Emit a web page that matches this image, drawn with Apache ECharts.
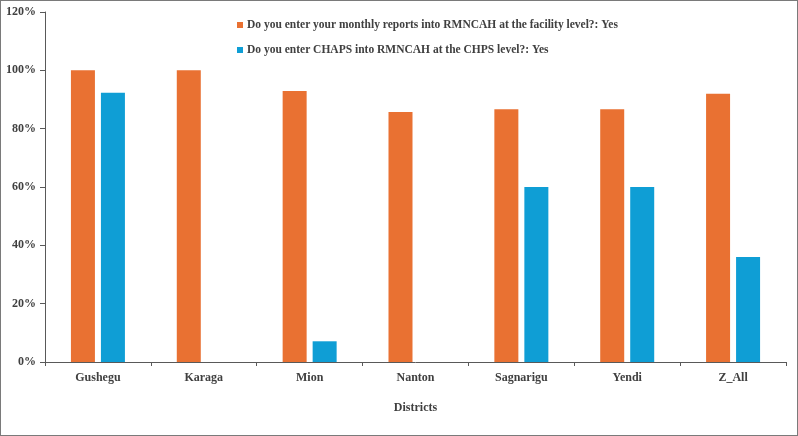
<!DOCTYPE html>
<html>
<head>
<meta charset="utf-8">
<script src="https://cdn.jsdelivr.net/npm/echarts@6/dist/echarts.min.js"></script>
<style>
  html, body { margin: 0; padding: 0; background: #fff; }
  #chart { width: 798px; height: 436px; box-sizing: border-box; border: 1px solid #7a7a7a; }
</style>
</head>
<body>
<div id="chart"></div>
<script>
const districts = ['Gushegu', 'Karaga', 'Mion', 'Nanton', 'Sagnarigu', 'Yendi', 'Z_All']
const monthlyReports = [100, 100, 92.9, 85.7, 86.7, 86.7, 92.0]
const chapsEntry = [92.3, 0, 7.1, 0, 60.0, 60.0, 36.0]
const seriesNames = [
  'Do you enter your monthly reports into RMNCAH at the facility level?: Yes',
  'Do you enter CHAPS into RMNCAH at the CHPS level?: Yes'
]

const axisColor = '#595959'
const textColor = '#404040'
const font = 'Liberation Serif, Times New Roman, serif'

const chart = echarts.init(document.getElementById('chart'), null, { renderer: 'canvas' })

chart.setOption({
  backgroundColor: '#fff',
  animation: false,
  textStyle: { fontFamily: font },
  legend: {
    orient: 'vertical',
    left: 231,
    top: 13,
    itemWidth: 6,
    itemHeight: 6,
    itemGap: 13,
    icon: 'rect',
    textStyle: { fontFamily: font, fontSize: 11.5, fontWeight: 'bold', color: textColor, padding: [0, 0, 0, -1] },
    data: seriesNames
  },
  grid: { left: 44, right: 11, top: 11, bottom: 73 },
  xAxis: {
    type: 'category',
    data: districts,
    name: 'Districts',
    nameLocation: 'middle',
    nameGap: 40,
    nameTextStyle: { fontFamily: font, fontSize: 12, fontWeight: 'bold', color: textColor },
    axisLine: { lineStyle: { color: axisColor, width: 1 } },
    axisTick: { show: true, length: 4, lineStyle: { color: axisColor } },
    axisLabel: { fontFamily: font, fontSize: 12, fontWeight: 'bold', color: textColor, margin: 10 }
  },
  yAxis: {
    type: 'value',
    min: 0,
    max: 120,
    interval: 20,
    splitLine: { show: false },
    axisLine: { show: true, lineStyle: { color: axisColor, width: 1 } },
    axisTick: { show: true, length: 5, lineStyle: { color: axisColor } },
    axisLabel: {
      fontFamily: font, fontSize: 12, fontWeight: 'bold', color: textColor, margin: 9,
      formatter: (v) => v + '%'
    }
  },
  series: [
    {
      name: seriesNames[0],
      type: 'bar',
      data: monthlyReports,
      barWidth: 24,
      barGap: '25%',
      itemStyle: { color: '#E97132' }
    },
    {
      name: seriesNames[1],
      type: 'bar',
      data: chapsEntry,
      barWidth: 24,
      itemStyle: { color: '#0F9ED5' }
    }
  ]
})
</script>
</body>
</html>
